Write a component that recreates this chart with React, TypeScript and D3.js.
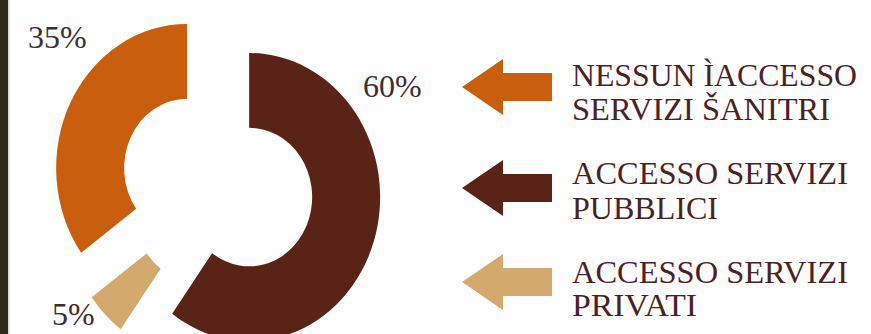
import React from 'react';
import * as d3 from 'd3';

// ---- data ----
const CATEGORY_LINES: string[][] = [
  ['NESSUN ÌACCESSO', 'SERVIZI ŠANITRI'],
  ['ACCESSO SERVIZI', 'PUBBLICI'],
  ['ACCESSO SERVIZI', 'PRIVATI'],
];
const VALUES: number[] = [35, 60, 5];
const PCT_LABELS: string[] = ['35%', '60%', '5%'];
const COLORS: string[] = ['#c95e0e', '#5a2317', '#d3a96d'];

// ---- layout ----
const W = 871;
const H = 334;
const CENTER: [number, number] = [221, 187];
const Y_SCALE = 1.1;
const OUTER_R = 131;
const INNER_R = 63;
const EXPLODE = [38, 29.6, 33];
const PCT_POS: [number, number][] = [[28, 48], [363, 97], [52, 325]];
const ARROW_Y = [87, 188, 282];
const LINE_BASE: number[][] = [[86, 120], [184, 219], [283, 316]];
const LINE_LEN: number[][] = [[285, 258], [276, 146], [276, 125]];
const TEXT_X = 572;
const FONT = '"Liberation Serif", "Times New Roman", serif';

export default function App() {
  const total = d3.sum(VALUES);
  const start = -(VALUES[0] / total) * 2 * Math.PI;
  const pie = d3
    .pie<number>()
    .sort(null)
    .startAngle(start)
    .endAngle(start + 2 * Math.PI)
    .value((d) => d);
  const arcs = pie(VALUES);
  const arc = d3.arc<d3.PieArcDatum<number>>().innerRadius(INNER_R).outerRadius(OUTER_R);

  const arrowPath = (cy: number) => {
    const p = d3.path();
    const tipX = 462, baseX = 503, endX = 552, headH = 28, shaftH = 14;
    p.moveTo(tipX, cy);
    p.lineTo(baseX, cy - headH);
    p.lineTo(baseX, cy - shaftH);
    p.lineTo(endX, cy - shaftH);
    p.lineTo(endX, cy + shaftH);
    p.lineTo(baseX, cy + shaftH);
    p.lineTo(baseX, cy + headH);
    p.closePath();
    return p.toString();
  };

  return (
    <svg
      width={W}
      height={H}
      style={{ position: 'absolute', left: 0, top: 0, display: 'block' }}
    >
      <rect x={0} y={0} width={W} height={H} fill="#fefefe" />
      <rect x={0} y={0} width={8} height={H} fill="#2c2a1f" />
      <rect x={8} y={0} width={1.5} height={H} fill="#d8d6cf" />

      <g transform={`translate(${CENTER[0]},${CENTER[1]}) scale(1,${Y_SCALE})`}>
        {arcs.map((a, i) => {
          const mid = (a.startAngle + a.endAngle) / 2;
          const dx = Math.sin(mid) * EXPLODE[i];
          const dy = -Math.cos(mid) * EXPLODE[i];
          return (
            <path
              key={i}
              d={arc(a) || ''}
              transform={`translate(${dx},${dy})`}
              fill={COLORS[i]}
            />
          );
        })}
      </g>

      {PCT_LABELS.map((t, i) => (
        <text
          key={t}
          x={PCT_POS[i][0]}
          y={PCT_POS[i][1]}
          fontFamily={FONT}
          fontSize={32}
          fill="#3e2d33"
        >
          {t}
        </text>
      ))}

      {CATEGORY_LINES.map((lines, i) => (
        <g key={i}>
          <path d={arrowPath(ARROW_Y[i])} fill={COLORS[i]} />
          {lines.map((ln, j) => (
            <text
              key={j}
              x={TEXT_X}
              y={LINE_BASE[i][j]}
              fontFamily={FONT}
              fontSize={32}
              fill="#4a2226"
              textLength={LINE_LEN[i][j]}
              lengthAdjust="spacingAndGlyphs"
            >
              {ln}
            </text>
          ))}
        </g>
      ))}
    </svg>
  );
}
